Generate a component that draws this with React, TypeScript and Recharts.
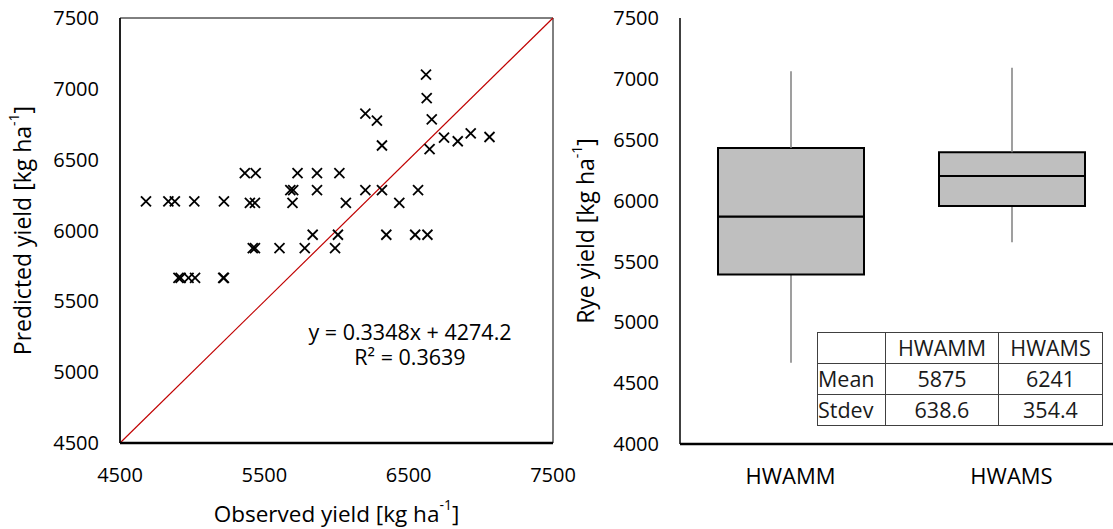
import React from 'react';
import {
  ScatterChart,
  Scatter,
  XAxis,
  YAxis,
  ReferenceLine,
  ReferenceArea,
  ComposedChart,
  Bar,
  Label,
} from 'recharts';

// ---------- Scatter data (observed vs predicted yield) ----------
const observed = [
  4680, 4835, 4880, 5015, 5220,
  5400, 5435, 5695, 6065, 6435,
  5365, 5440, 5730, 5865, 6020,
  5680, 5700, 5865, 6200, 6315, 6565,
  5835, 6010, 6345, 6545, 6630,
  5420, 5435, 5605, 5780, 5990,
  4905, 4920, 4975, 5020, 5215, 5220,
  6620, 6625, 6660, 6200, 6280, 6315, 6745, 6840, 6930, 7060, 6645,
];
const predicted = [
  6205, 6205, 6205, 6205, 6205,
  6195, 6195, 6195, 6195, 6195,
  6405, 6405, 6405, 6405, 6405,
  6285, 6285, 6285, 6285, 6285, 6285,
  5970, 5970, 5970, 5970, 5970,
  5875, 5875, 5875, 5875, 5875,
  5665, 5665, 5665, 5665, 5665, 5665,
  7100, 6935, 6785, 6825, 6775, 6600, 6655, 6630, 6685, 6660, 6575,
];
const scatterData = observed.map((o, i) => ({ x: o, y: predicted[i] }));

const scatterXTicks = [4500, 5500, 6500, 7500];
const scatterYTicks = [4500, 5000, 5500, 6000, 6500, 7000, 7500];
const oneToOne = [
  { x: 4500, y: 4500 },
  { x: 7500, y: 7500 },
];
const equationText = 'y = 0.3348x + 4274.2';
const r2Text = 'R² = 0.3639';

// ---------- Box plot data ----------
const categories = ['HWAMM', 'HWAMS'];
const whiskerMin = [4667, 5658];
const quartile1 = [5392, 5955];
const medians = [5870, 6201];
const quartile3 = [6432, 6397];
const whiskerMax = [7062, 7091];
const boxYTicks = [4000, 4500, 5000, 5500, 6000, 6500, 7000, 7500];

const boxData = categories.map((name, i) => ({
  name,
  base: whiskerMin[i],
  lowWhisker: quartile1[i] - whiskerMin[i],
  lowBox: medians[i] - quartile1[i],
  highBox: quartile3[i] - medians[i],
  highWhisker: whiskerMax[i] - quartile3[i],
}));

// ---------- Summary table ----------
const tableHeader = ['', 'HWAMM', 'HWAMS'];
const tableRows = [
  ['Mean', '5875', '6241'],
  ['Stdev', '638.6', '354.4'],
];

const FONT = '"Open Sans", sans-serif';
const TXT = '#000';

const CrossShape = (props: any) => {
  const { cx, cy } = props;
  const r = 5;
  return (
    <g stroke="#000" strokeWidth={1.8}>
      <line x1={cx - r} y1={cy - r} x2={cx + r} y2={cy + r} />
      <line x1={cx - r} y1={cy + r} x2={cx + r} y2={cy - r} />
    </g>
  );
};

const WhiskerShape = (props: any) => {
  const { x, y, width, height } = props;
  const cx = x + width / 2;
  return <line x1={cx} x2={cx} y1={y} y2={y + height} stroke="#7f7f7f" strokeWidth={1.5} />;
};

const YTitle = (text: string, dx: number) => (props: any) => {
  const vb = props.viewBox || {};
  const cx = vb.x + dx;
  const cy = vb.y + vb.height / 2;
  return (
    <text
      x={cx}
      y={cy}
      transform={`rotate(-90, ${cx}, ${cy})`}
      textAnchor="middle"
      dominantBaseline="central"
      fontFamily={FONT}
      fontSize={23}
      fill={TXT}
    >
      {text}
      <tspan dy={-9} fontSize={14}>-1</tspan>
      <tspan dy={9}>]</tspan>
    </text>
  );
};

const XTitle = (text: string, dy: number) => (props: any) => {
  const vb = props.viewBox || {};
  const cx = vb.x + vb.width / 2;
  const cy = vb.y + dy;
  return (
    <text x={cx} y={cy} textAnchor="middle" dominantBaseline="central" fontFamily={FONT} fontSize={22.5} fill={TXT}>
      {text}
      <tspan dy={-9} fontSize={14}>-1</tspan>
      <tspan dy={9}>]</tspan>
    </text>
  );
};

const tickStyle = { fontFamily: FONT, fontSize: 20, fill: TXT };
const catTickStyle = { fontFamily: FONT, fontSize: 22, fill: TXT };

export default function App() {
  return (
    <div style={{ position: 'absolute', left: 0, top: 0, width: 1113, height: 529, overflow: 'hidden', background: '#fff' }}>
      {/* Left: scatter */}
      <div style={{ position: 'absolute', left: 0, top: 0 }}>
        <ScatterChart width={590} height={529} margin={{ top: 18, right: 37, bottom: 26, left: 0 }}>
          <ReferenceArea x1={4500} x2={7500} y1={4500} y2={7500} fill="none" stroke="#000" strokeWidth={1} />
          <XAxis
            type="number"
            dataKey="x"
            domain={[4500, 7500]}
            ticks={scatterXTicks}
            interval={0}
            height={60}
            tickLine={false}
            tickSize={0}
            tickMargin={25}
            axisLine={{ stroke: '#000', strokeWidth: 2.5 }}
            tick={tickStyle}
          >
            <Label content={XTitle('Observed yield [kg ha', 70)} />
          </XAxis>
          <YAxis
            type="number"
            dataKey="y"
            domain={[4500, 7500]}
            ticks={scatterYTicks}
            interval={0}
            width={120}
            tickLine={false}
            tickSize={0}
            tickMargin={21}
            axisLine={{ stroke: '#000', strokeWidth: 1.5 }}
            tick={tickStyle}
          >
            <Label content={YTitle('Predicted yield [kg ha', 22)} />
          </YAxis>
          <ReferenceLine segment={oneToOne} stroke="#c00000" strokeWidth={1.2} ifOverflow="visible" />
          <Scatter data={scatterData} shape={<CrossShape />} isAnimationActive={false} />
        </ScatterChart>
      </div>

      {/* Regression text */}
      <div
        style={{
          position: 'absolute',
          left: 290,
          top: 319,
          width: 240,
          textAlign: 'center',
          fontFamily: FONT,
          fontSize: 21.5,
          lineHeight: '25px',
          color: TXT,
        }}
      >
        <div>{equationText}</div>
        <div>{r2Text}</div>
      </div>

      {/* Right: box plot */}
      <div style={{ position: 'absolute', left: 562, top: 0 }}>
        <ComposedChart width={560} height={529} data={boxData} margin={{ top: 18, right: 0, bottom: 25, left: 0 }}>
          <XAxis
            dataKey="name"
            type="category"
            height={60}
            tickLine={false}
            tickSize={0}
            tickMargin={24}
            axisLine={{ stroke: '#000', strokeWidth: 2.5 }}
            tick={catTickStyle}
          />
          <XAxis
            xAxisId="top"
            dataKey="name"
            type="category"
            orientation="top"
            height={0}
            tick={false}
            tickLine={false}
            axisLine={{ stroke: '#000', strokeWidth: 1 }}
          />
          <YAxis
            type="number"
            domain={[4000, 7500]}
            ticks={boxYTicks}
            interval={0}
            allowDataOverflow
            width={118}
            tickLine={false}
            tickSize={0}
            tickMargin={21}
            axisLine={{ stroke: '#000', strokeWidth: 1.5 }}
            tick={tickStyle}
          >
            <Label content={YTitle('Rye yield [kg ha', 23)} />
          </YAxis>
          <Bar dataKey="base" stackId="b" fill="transparent" barSize={146} isAnimationActive={false} />
          <Bar dataKey="lowWhisker" stackId="b" shape={<WhiskerShape />} barSize={146} isAnimationActive={false} />
          <Bar dataKey="lowBox" stackId="b" fill="#bfbfbf" stroke="#000" strokeWidth={2} barSize={146} isAnimationActive={false} />
          <Bar dataKey="highBox" stackId="b" fill="#bfbfbf" stroke="#000" strokeWidth={2} barSize={146} isAnimationActive={false} />
          <Bar dataKey="highWhisker" stackId="b" shape={<WhiskerShape />} barSize={146} isAnimationActive={false} />
        </ComposedChart>
      </div>

      {/* Summary table */}
      <table
        style={{
          position: 'absolute',
          left: 817,
          top: 332,
          width: 285,
          height: 94,
          borderCollapse: 'collapse',
          fontFamily: FONT,
          fontSize: 21.5,
          color: '#1a1a1a',
          background: '#fff',
          tableLayout: 'fixed',
        }}
      >
        <colgroup>
          <col style={{ width: 68 }} />
          <col style={{ width: 113 }} />
          <col style={{ width: 104 }} />
        </colgroup>
        <tbody>
          <tr>
            {tableHeader.map((h, i) => (
              <td key={i} style={{ border: '1px solid #404040', textAlign: 'center', padding: 0, height: 30, lineHeight: '28px' }}>
                {h}
              </td>
            ))}
          </tr>
          {tableRows.map((row, r) => (
            <tr key={r}>
              {row.map((c, i) => (
                <td
                  key={i}
                  style={{
                    border: '1px solid #404040',
                    textAlign: i === 0 ? 'left' : 'center',
                    padding: 0,
                    height: 30,
                    lineHeight: '28px',
                  }}
                >
                  {c}
                </td>
              ))}
            </tr>
          ))}
        </tbody>
      </table>
    </div>
  );
}
